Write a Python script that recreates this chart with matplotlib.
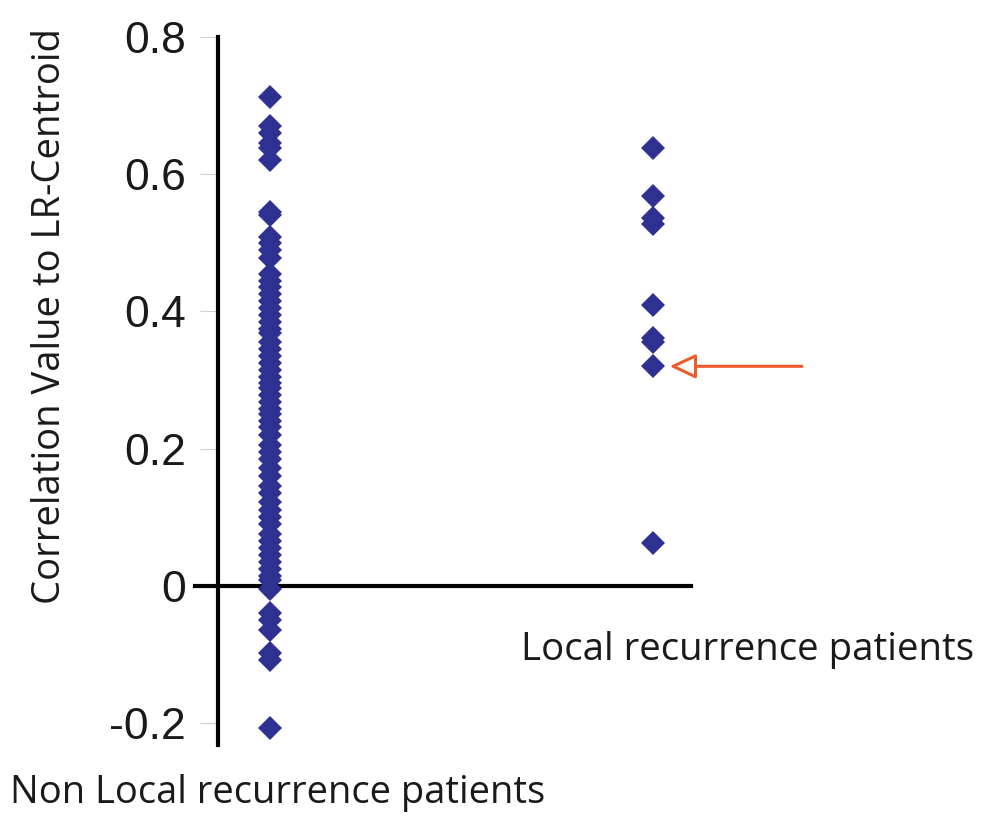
import matplotlib
matplotlib.use("Agg")
import matplotlib.pyplot as plt

# ---- data ----
non_lr_values = [0.712, 0.670, 0.660, 0.645, 0.638, 0.620, 0.545, 0.540,
                 0.508, 0.500, 0.490, 0.478, 0.455, 0.445, 0.435, 0.425,
                 0.415, 0.405, 0.395, 0.385, 0.375, 0.368, 0.355, 0.345,
                 0.335, 0.325, 0.315, 0.305, 0.295, 0.288, 0.278, 0.268,
                 0.258, 0.250, 0.240, 0.232, 0.220, 0.205, 0.195, 0.185,
                 0.172, 0.160, 0.145, 0.135, 0.122, 0.110, 0.100, 0.090,
                 0.075, 0.065, 0.055, 0.045, 0.035, 0.025, 0.015, 0.008,
                 -0.005, -0.040, -0.050, -0.065, -0.098, -0.108, -0.207]
lr_values = [0.638, 0.568, 0.536, 0.527, 0.409, 0.361, 0.355, 0.320, 0.062]
highlight_value = 0.320
yticks = [-0.2, 0, 0.2, 0.4, 0.6, 0.8]
ytick_labels = ["-0.2", "0", "0.2", "0.4", "0.6", "0.8"]
ylabel = "Correlation Value to LR-Centroid"
group_labels = ["Non Local recurrence patients", "Local recurrence patients"]

W, H = 1004, 830
fig = plt.figure(figsize=(W / 100, H / 100), dpi=100)
fig.patch.set_facecolor("white")

# axes geometry in pixels
left_px, right_px, top_px, bottom_px = 218, 691, 37, 745
ax = fig.add_axes([left_px / W, 1 - bottom_px / H,
                   (right_px - left_px) / W, (bottom_px - top_px) / H])
ax.set_xlim(0.864, 2.099)
ax.set_ylim(-0.232, 0.8)

marker_color = "#2E3192"
ax.plot([1] * len(non_lr_values), non_lr_values, linestyle="none", marker="D",
        markersize=12.5, color=marker_color, markeredgewidth=0, clip_on=False, zorder=3)
ax.plot([2] * len(lr_values), lr_values, linestyle="none", marker="D",
        markersize=12.5, color=marker_color, markeredgewidth=0, clip_on=False, zorder=3)

# spines
for s in ["top", "right", "bottom"]:
    ax.spines[s].set_visible(False)
ax.spines["left"].set_linewidth(3)
ax.spines["left"].set_color("black")
ax.axhline(0, xmin=-23 / (right_px - left_px), xmax=1, color="black",
           linewidth=3, clip_on=False, zorder=2)

ax.set_xticks([])
ax.set_yticks(yticks)
ax.set_yticklabels(ytick_labels, fontsize=32, family="Liberation Sans", color="#1a1a1a")
ax.tick_params(axis="y", direction="out", length=13, width=0.8, color="#d0d0d0", pad=10)

# arrow annotation
arrow_color = "#EF5A2A"
ax.annotate("", xy=(2.036, highlight_value), xytext=(2.396, highlight_value),
            arrowprops=dict(arrowstyle="-|>,head_length=1.6,head_width=0.75",
                            fc="white", ec=arrow_color, lw=2.2),
            annotation_clip=False)

# text labels
txt_font = "Open Sans"
ylab = fig.text(50 / W, 1 - 316 / H, ylabel, rotation=90, ha="center", va="center",
                fontsize=27, family=txt_font, color="#1a1a1a")
t1 = fig.text(278 / W, 1 - 793 / H, group_labels[0], ha="center", va="center",
              fontsize=27, family=txt_font, color="#1a1a1a")
t2 = fig.text(748 / W, 1 - 650 / H, group_labels[1], ha="center", va="center",
              fontsize=27, family=txt_font, color="#1a1a1a")

# fit text sizes to target extents
fig.canvas.draw()
r = fig.canvas.get_renderer()
for t, target, vertical in [(ylab, 577, True), (t1, 535, False), (t2, 453, False)]:
    bb = t.get_window_extent(r)
    cur = bb.height if vertical else bb.width
    t.set_fontsize(t.get_fontsize() * target / cur)

fig.savefig("out.png", dpi=100, facecolor="white")
